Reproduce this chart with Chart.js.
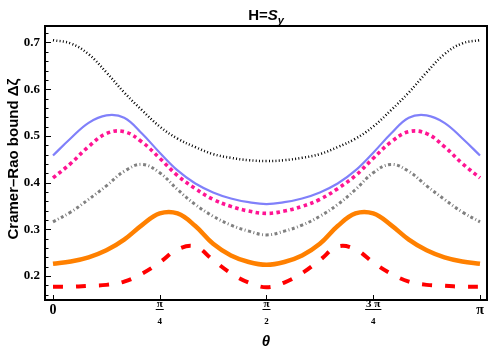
<!DOCTYPE html>
<html>
<head>
<meta charset="utf-8">
<script src="https://cdn.jsdelivr.net/npm/chart.js@4.4.1/dist/chart.umd.min.js"></script>
<style>
  html, body { margin: 0; padding: 0; background: #fff; }
  #wrap { width: 493px; height: 356px; }
</style>
</head>
<body>
<div id="wrap"><canvas id="graf" width="493" height="356"></canvas></div>
<script>
// theta in degrees (0 .. 180 = 0 .. pi)
const THETA_DEG = [0, 7.5, 15, 22.5, 30, 37.5, 45, 52.5, 60, 67.5, 75, 82.5, 90,
  97.5, 105, 112.5, 120, 127.5, 135, 142.5, 150, 157.5, 165, 172.5, 180];

const PONTILHADO_PRETO = [0.705, 0.698, 0.675, 0.636, 0.593, 0.555, 0.520, 0.494, 0.476, 0.461, 0.453, 0.448, 0.446,
  0.448, 0.453, 0.461, 0.476, 0.494, 0.520, 0.555, 0.593, 0.636, 0.675, 0.698, 0.705];
const AZUL = [0.458, 0.495, 0.528, 0.544, 0.539, 0.505, 0.464, 0.426, 0.398, 0.379, 0.366, 0.358, 0.354,
  0.358, 0.366, 0.379, 0.398, 0.426, 0.464, 0.505, 0.539, 0.544, 0.528, 0.495, 0.458];
const MAGENTA = [0.410, 0.441, 0.477, 0.505, 0.509, 0.487, 0.452, 0.415, 0.387, 0.364, 0.349, 0.339, 0.334,
  0.339, 0.349, 0.364, 0.387, 0.415, 0.452, 0.487, 0.509, 0.505, 0.477, 0.441, 0.410];
const CINZA = [0.316, 0.337, 0.364, 0.393, 0.424, 0.439, 0.421, 0.385, 0.353, 0.328, 0.309, 0.296, 0.288,
  0.296, 0.309, 0.328, 0.353, 0.385, 0.421, 0.439, 0.424, 0.393, 0.364, 0.337, 0.316];
const LARANJA = [0.226, 0.231, 0.240, 0.255, 0.278, 0.309, 0.334, 0.334, 0.307, 0.269, 0.244, 0.230, 0.224,
  0.230, 0.244, 0.269, 0.307, 0.334, 0.334, 0.309, 0.278, 0.255, 0.240, 0.231, 0.226];
const VERMELHO = [0.177, 0.177, 0.179, 0.181, 0.188, 0.205, 0.229, 0.257, 0.263, 0.234, 0.206, 0.186, 0.176,
  0.186, 0.206, 0.234, 0.263, 0.257, 0.229, 0.205, 0.188, 0.181, 0.179, 0.177, 0.177];

const Y_TICKS = [0.2, 0.3, 0.4, 0.5, 0.6, 0.7];
const X_TICKS = [0, 45, 90, 135, 180];
const X_NUM = ['0', 'π', 'π', '3 π', 'π'];
const X_DEN = [null, '4', '2', '4', null];

function serie(valores, cor, largura, tracejado) {
  return {
    data: THETA_DEG.map((t, i) => ({ x: t, y: valores[i] })),
    borderColor: cor,
    borderWidth: largura,
    borderDash: tracejado,
    borderCapStyle: 'butt',
    pointRadius: 0,
    tension: 0.4,
    fill: false
  };
}

const decor = {
  id: 'decor',
  afterDraw(chart) {
    const { ctx, chartArea: a, scales: { x, y } } = chart;
    ctx.save();
    ctx.fillStyle = '#000';
    ctx.strokeStyle = '#000';

    // ticks do eixo y (para dentro)
    ctx.lineWidth = 1;
    for (let v = 0.16; v < 0.735; v += 0.02) {
      const py = Math.round(y.getPixelForValue(v)) + 0.5;
      const maior = Math.abs(v * 10 - Math.round(v * 10)) < 1e-6;
      ctx.beginPath();
      ctx.moveTo(a.left, py);
      ctx.lineTo(a.left + (maior ? 6 : 3.5), py);
      ctx.stroke();
    }
    // ticks do eixo x
    X_TICKS.forEach(t => {
      const px = Math.round(x.getPixelForValue(t)) + 0.5;
      ctx.beginPath();
      ctx.moveTo(px, a.bottom);
      ctx.lineTo(px, a.bottom - 5);
      ctx.stroke();
    });

    // moldura
    ctx.lineWidth = 2;
    ctx.strokeRect(a.left, a.top, a.right - a.left, a.bottom - a.top);

    // rotulos do eixo x (fracoes de pi)
    ctx.textAlign = 'center';
    ctx.textBaseline = 'middle';
    X_TICKS.forEach((t, i) => {
      const px = x.getPixelForValue(t);
      if (!X_DEN[i]) {
        ctx.font = 'bold 14px "Liberation Serif"';
        ctx.fillText(X_NUM[i], px, a.bottom + 10);
        return;
      }
      ctx.font = 'bold 11px "Liberation Serif"';
      const w = ctx.measureText(X_NUM[i]).width;
      ctx.fillText(X_NUM[i], px, a.bottom + 4);
      ctx.fillRect(px - w / 2 - 1, a.bottom + 9, w + 2, 1);
      ctx.font = 'bold 9px "Liberation Serif"';
      ctx.fillText(X_DEN[i], px, a.bottom + 22);
    });

    // titulo do eixo x
    ctx.font = 'bold italic 15px "Liberation Sans"';
    ctx.fillText('θ', (a.left + a.right) / 2, 342);

    // titulo do eixo y
    ctx.save();
    ctx.translate(14, 159);
    ctx.rotate(-Math.PI / 2);
    ctx.font = 'bold 15px "Liberation Sans"';
    ctx.fillText('Cramer\u2013Rao bound \u0394\u03B6', 0, 0);
    ctx.restore();

    // titulo H=S_y
    ctx.textAlign = 'left';
    ctx.textBaseline = 'alphabetic';
    ctx.font = 'bold 15px "Liberation Sans"';
    const p1 = 'H=';
    const w1 = ctx.measureText(p1).width;
    ctx.font = 'bold italic 15px "Liberation Sans"';
    const w2 = ctx.measureText('S').width;
    ctx.font = 'bold italic 11px "Liberation Sans"';
    const w3 = ctx.measureText('y').width;
    let x0 = (a.left + a.right) / 2 - (w1 + w2 + w3) / 2;
    ctx.font = 'bold 15px "Liberation Sans"';
    ctx.fillText(p1, x0, 20);
    ctx.font = 'bold italic 15px "Liberation Sans"';
    ctx.fillText('S', x0 + w1, 20);
    ctx.font = 'bold italic 11px "Liberation Sans"';
    ctx.fillText('y', x0 + w1 + w2, 24);

    ctx.restore();
  }
};

new Chart(document.getElementById('graf'), {
  type: 'line',
  data: {
    datasets: [
      serie(PONTILHADO_PRETO, '#000000', 2.5, [1, 2.3]),
      serie(AZUL, 'rgb(128,128,250)', 2.2, []),
      serie(MAGENTA, 'rgb(255,20,147)', 3.6, [3.6, 3.4]),
      serie(CINZA, 'rgb(128,128,128)', 3, [3, 2.5, 1, 2.5]),
      serie(LARANJA, 'rgb(255,128,0)', 4.5, []),
      serie(VERMELHO, 'rgb(255,0,0)', 4, [10, 13])
    ]
  },
  options: {
    responsive: false,
    animation: false,
    devicePixelRatio: 1,
    layout: { padding: { top: 26, right: 6, left: 0, bottom: 0 } },
    plugins: { legend: { display: false }, title: { display: false }, tooltip: { enabled: false } },
    scales: {
      x: {
        type: 'linear',
        min: -3.37,
        max: 182.95,
        grid: { display: false, drawTicks: false },
        border: { display: false },
        ticks: { display: false },
        afterFit(scale) { scale.height = 56; }
      },
      y: {
        min: 0.1486,
        max: 0.7353,
        grid: { display: false, drawTicks: false },
        border: { display: false },
        afterBuildTicks(scale) { scale.ticks = Y_TICKS.map(v => ({ value: v })); },
        ticks: {
          color: '#000',
          padding: 5,
          font: { family: '"Liberation Serif"', weight: 'bold', size: 13 },
          callback: v => v.toFixed(1)
        },
        afterFit(scale) { scale.width = 45; }
      }
    }
  },
  plugins: [decor]
});
</script>
</body>
</html>
